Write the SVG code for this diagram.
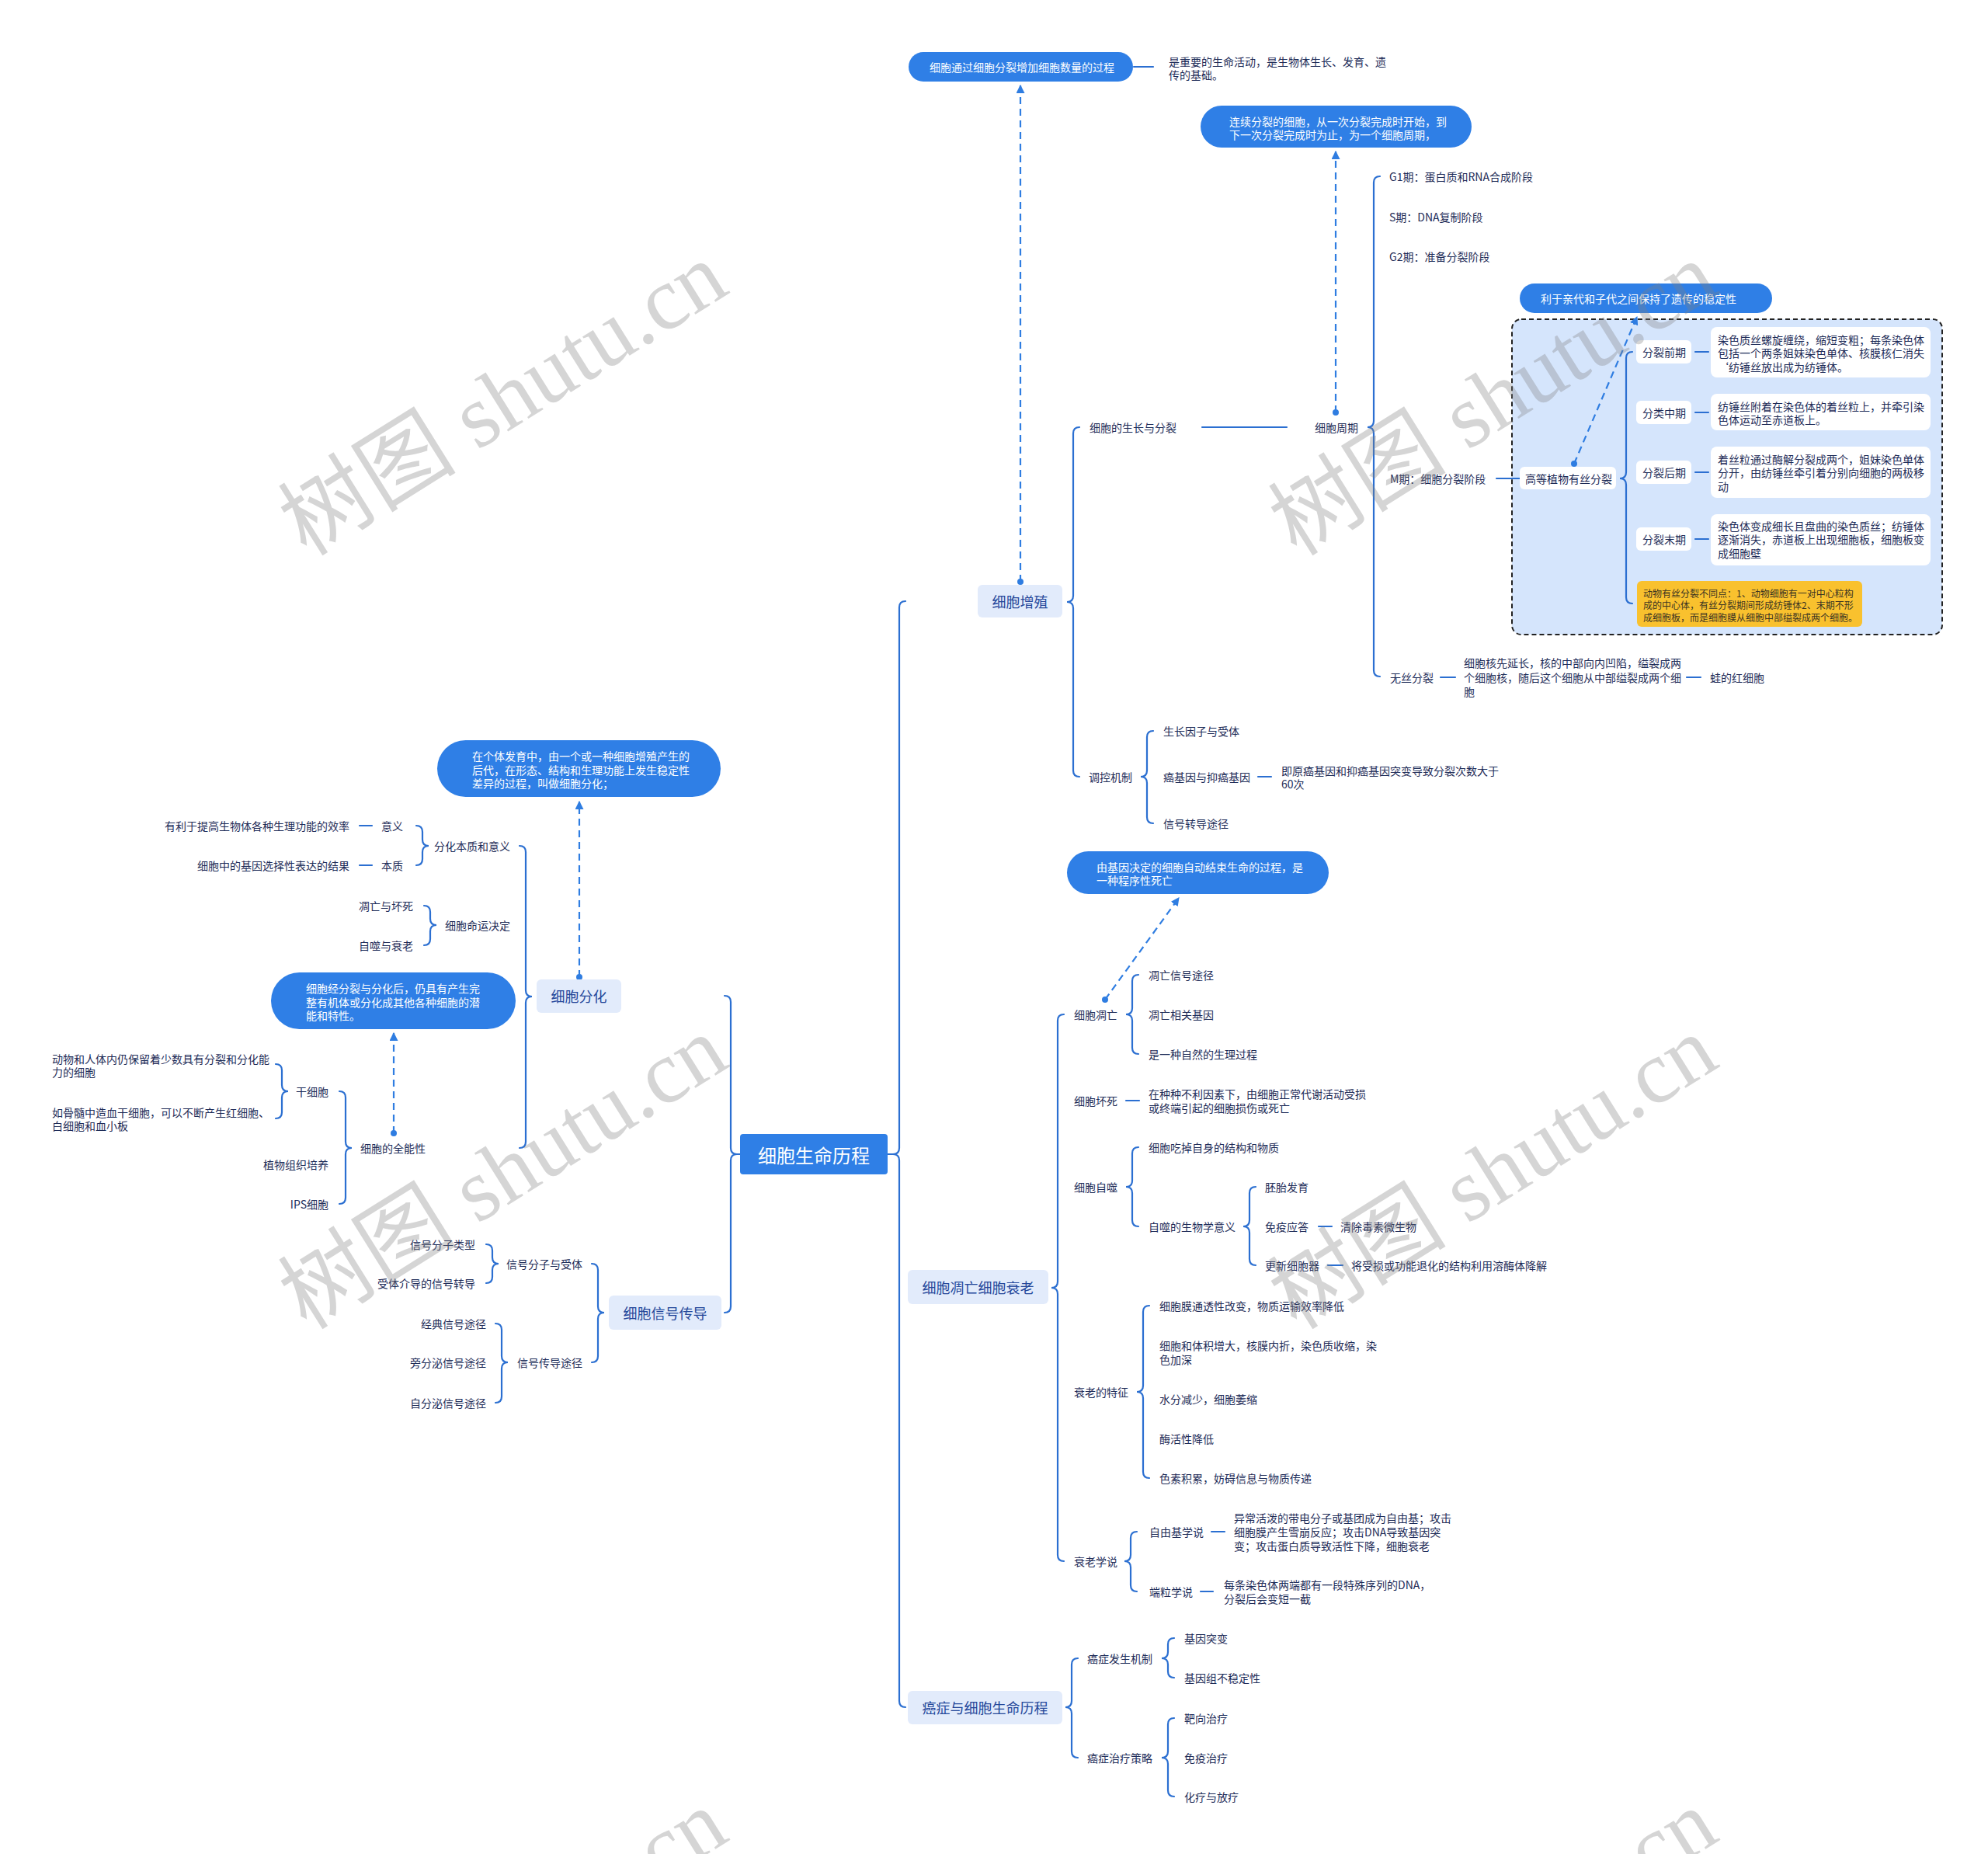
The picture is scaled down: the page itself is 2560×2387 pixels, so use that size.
<svg xmlns="http://www.w3.org/2000/svg" width="2560" height="2387" viewBox="0 0 2560 2387">
<style>
.t{font-family:"Noto Sans CJK SC","Noto Sans",sans-serif;font-size:14px;fill:#1d2b57;dominant-baseline:central}
.e{text-anchor:end}
.m{text-anchor:middle}
.pt{fill:#ffffff}
.br{font-size:18px;fill:#24479a;text-anchor:middle}
.rt{font-size:24px;fill:#ffffff;text-anchor:middle}
.y{font-size:12px;fill:#3a3322}
.ln{fill:none;stroke:#2b6fd1;stroke-width:2.2;stroke-linecap:round}
.da{fill:none;stroke:#2f7de1;stroke-width:2.2;stroke-dasharray:9 6}
.pill{fill:#2f7fe6}
.bx{fill:#e2ebfb}
.wb{fill:#ffffff}
.wm{font-family:"Liberation Serif","Noto Sans CJK SC",serif;font-size:115px;fill:#808080;fill-opacity:0.33;text-anchor:middle;dominant-baseline:central}
</style>
<defs>
<marker id="ah" viewBox="0 0 10 10" refX="9" refY="5" markerWidth="5" markerHeight="5" orient="auto"><path d="M0,0 L10,5 L0,10 z" fill="#2f7de1"/></marker>
</defs>
<rect width="2560" height="2387" fill="#ffffff"/>

<g id="mphase-area">
<rect x="1947" y="411" width="554" height="406" rx="12" fill="#d5e5fc" stroke="#222" stroke-width="2" stroke-dasharray="6 4"/>
</g>

<g id="connectors">
<path class="ln" d="M1143,1486 L1150,1486"/>
<path class="ln" d="M1166,774 Q1158,774 1158,782 L1158,1478 Q1158,1486 1150,1486 Q1158,1486 1158,1494 L1158,2190 Q1158,2198 1166,2198"/>
<path class="ln" d="M1390,550 Q1382,550 1382,558 L1382,767 Q1382,775 1374,775 Q1382,775 1382,783 L1382,992 Q1382,1000 1390,1000"/>
<path class="ln" d="M1548,550 L1657,550"/>
<path class="ln" d="M1777,227 Q1769,227 1769,235 L1769,542 Q1769,550 1761,550 Q1769,550 1769,558 L1769,863 Q1769,871 1777,871"/>
<path class="ln" d="M1927,616 L1957,616"/>
<path class="ln" d="M2102,453 Q2094,453 2094,461 L2094,608 Q2094,616 2086,616 Q2094,616 2094,624 L2094,769 Q2094,777 2102,777"/>
<path class="ln" d="M2183,453 L2200,453 M2183,531 L2200,531 M2183,608 L2200,608 M2183,694 L2200,694"/>
<path class="ln" d="M1855,872 L1874,872 M2172,872 L2190,872"/>
<path class="ln" d="M1460,86 L1485,86"/>
<path class="ln" d="M1485,941 Q1477,941 1477,949 L1477,992 Q1477,1000 1469,1000 Q1477,1000 1477,1008 L1477,1052 Q1477,1060 1485,1060"/>
<path class="ln" d="M1620,1000 L1637,1000"/>
<path class="ln" d="M1370,1306 Q1362,1306 1362,1314 L1362,1650 Q1362,1658 1354,1658 Q1362,1658 1362,1666 L1362,2002 Q1362,2010 1370,2010"/>
<path class="ln" d="M1466,1255 Q1458,1255 1458,1263 L1458,1298 Q1458,1306 1450,1306 Q1458,1306 1458,1314 L1458,1349 Q1458,1357 1466,1357"/>
<path class="ln" d="M1450,1417 L1467,1417"/>
<path class="ln" d="M1466,1477 Q1458,1477 1458,1485 L1458,1520 Q1458,1528 1450,1528 Q1458,1528 1458,1536 L1458,1571 Q1458,1579 1466,1579"/>
<path class="ln" d="M1617,1528 Q1609,1528 1609,1536 L1609,1571 Q1609,1579 1601,1579 Q1609,1579 1609,1587 L1609,1621 Q1609,1629 1617,1629"/>
<path class="ln" d="M1698,1579 L1715,1579 M1710,1629 L1729,1629"/>
<path class="ln" d="M1480,1681 Q1472,1681 1472,1689 L1472,1784 Q1472,1792 1464,1792 Q1472,1792 1472,1800 L1472,1895 Q1472,1903 1480,1903"/>
<path class="ln" d="M1464,1972 Q1456,1972 1456,1980 L1456,2002 Q1456,2010 1448,2010 Q1456,2010 1456,2018 L1456,2041 Q1456,2049 1464,2049"/>
<path class="ln" d="M1560,1972 L1577,1972 M1546,2049 L1562,2049"/>
<path class="ln" d="M1388,2135 Q1380,2135 1380,2143 L1380,2190 Q1380,2198 1372,2198 Q1380,2198 1380,2206 L1380,2255 Q1380,2263 1388,2263"/>
<path class="ln" d="M1512,2109 Q1504,2109 1504,2117 L1504,2127 Q1504,2135 1496,2135 Q1504,2135 1504,2143 L1504,2152 Q1504,2160 1512,2160"/>
<path class="ln" d="M1512,2212 Q1504,2212 1504,2220 L1504,2255 Q1504,2263 1496,2263 Q1504,2263 1504,2271 L1504,2305 Q1504,2313 1512,2313"/>
<path class="ln" d="M949,1486 L953,1486"/>
<path class="ln" d="M933,1282 Q941,1282 941,1290 L941,1478 Q941,1486 949,1486 Q941,1486 941,1494 L941,1682 Q941,1690 933,1690"/>
<path class="ln" d="M669,1089 Q677,1089 677,1097 L677,1275 Q677,1283 685,1283 Q677,1283 677,1291 L677,1470 Q677,1478 669,1478"/>
<path class="ln" d="M536,1063 Q544,1063 544,1071 L544,1081 Q544,1089 552,1089 Q544,1089 544,1097 L544,1106 Q544,1114 536,1114"/>
<path class="ln" d="M463,1063 L479,1063 M463,1114 L479,1114"/>
<path class="ln" d="M546,1166 Q554,1166 554,1174 L554,1183 Q554,1191 562,1191 Q554,1191 554,1199 L554,1209 Q554,1217 546,1217"/>
<path class="ln" d="M437,1405 Q445,1405 445,1413 L445,1470 Q445,1478 453,1478 Q445,1478 445,1486 L445,1542 Q445,1550 437,1550"/>
<path class="ln" d="M355,1370 Q363,1370 363,1378 L363,1397 Q363,1405 371,1405 Q363,1405 363,1413 L363,1432 Q363,1440 355,1440"/>
<path class="ln" d="M762,1627 Q770,1627 770,1635 L770,1682 Q770,1690 778,1690 Q770,1690 770,1698 L770,1746 Q770,1754 762,1754"/>
<path class="ln" d="M626,1602 Q634,1602 634,1610 L634,1619 Q634,1627 642,1627 Q634,1627 634,1635 L634,1644 Q634,1652 626,1652"/>
<path class="ln" d="M638,1704 Q646,1704 646,1712 L646,1746 Q646,1754 654,1754 Q646,1754 646,1762 L646,1798 Q646,1806 638,1806"/>
<g fill="#2f7de1">
<circle cx="1314" cy="749" r="4"/><circle cx="1720" cy="531" r="4"/><circle cx="2027" cy="597" r="4"/>
<circle cx="1423" cy="1287" r="4"/><circle cx="746" cy="1258" r="4"/><circle cx="507" cy="1459" r="4"/>
</g>
<path class="da" d="M1314,749 L1314,110" marker-end="url(#ah)"/>
<path class="da" d="M1720,531 L1720,195" marker-end="url(#ah)"/>
<path class="da" d="M2027,597 L2108,408" marker-end="url(#ah)"/>
<path class="da" d="M1423,1287 L1518,1156" marker-end="url(#ah)"/>
<path class="da" d="M746,1258 L746,1032" marker-end="url(#ah)"/>
<path class="da" d="M507,1459 L507,1330" marker-end="url(#ah)"/>
</g>

<g id="root"><rect x="953" y="1460" width="190" height="52" rx="4" fill="#2f7fe6"/><text class="t rt" x="1048" y="1486">细胞生命历程</text></g>

<g id="b-proliferation"><rect class="bx" x="1259" y="753" width="109" height="42" rx="6"/><text class="t br" x="1313.5" y="774">细胞增殖</text></g>
<g id="pill-proliferation"><rect class="pill" x="1170" y="67" width="289" height="38" rx="19"/><text class="t pt" x="1197" y="86">细胞通过细胞分裂增加细胞数量的过程</text></g>
<g id="n-importance"><text class="t" x="1505" y="79">是重要的生命活动，是生物体生长、发育、遗<tspan x="1505" y="96">传的基础。</tspan></text></g>
<g id="n-growth"><text class="t" x="1403" y="550">细胞的生长与分裂</text></g>
<g id="n-cycle"><text class="t" x="1693" y="550">细胞周期</text></g>
<g id="pill-cycle"><rect class="pill" x="1546" y="136" width="349" height="54" rx="27"/><text class="t pt" x="1583" y="156">连续分裂的细胞，从一次分裂完成时开始，到<tspan x="1583" y="173">下一次分裂完成时为止，为一个细胞周期，</tspan></text></g>
<g id="n-g1"><text class="t" x="1789" y="227">G1期：蛋白质和RNA合成阶段</text></g>
<g id="n-s"><text class="t" x="1789" y="279">S期：DNA复制阶段</text></g>
<g id="n-g2"><text class="t" x="1789" y="330">G2期：准备分裂阶段</text></g>
<g id="n-m"><text class="t" x="1790" y="616">M期：细胞分裂阶段</text></g>
<g id="pill-stable"><rect class="pill" x="1957" y="365" width="325" height="38" rx="19"/><text class="t pt" x="1984" y="384">利于亲代和子代之间保持了遗传的稳定性</text></g>
<g id="n-plant"><rect class="wb" x="1957" y="601" width="124" height="29" rx="6"/><text class="t" x="1964" y="616">高等植物有丝分裂</text></g>
<g id="n-pro"><rect class="wb" x="2107" y="438" width="71" height="30" rx="6"/><text class="t" x="2115" y="453">分裂前期</text></g>
<g id="d-pro"><rect class="wb" x="2203" y="421" width="283" height="65" rx="8"/><text class="t" x="2212" y="437">染色质丝螺旋缠绕，缩短变粗；每条染色体<tspan x="2212" y="454">包括一个两条姐妹染色单体、核膜核仁消失</tspan><tspan x="2212" y="472">‘纺锤丝放出成为纺锤体。</tspan></text></g>
<g id="n-meta"><rect class="wb" x="2107" y="516" width="71" height="30" rx="6"/><text class="t" x="2115" y="531">分类中期</text></g>
<g id="d-meta"><rect class="wb" x="2203" y="507" width="283" height="47" rx="8"/><text class="t" x="2212" y="523">纺锤丝附着在染色体的着丝粒上，并牵引染<tspan x="2212" y="540">色体运动至赤道板上。</tspan></text></g>
<g id="n-ana"><rect class="wb" x="2107" y="593" width="71" height="30" rx="6"/><text class="t" x="2115" y="608">分裂后期</text></g>
<g id="d-ana"><rect class="wb" x="2203" y="575" width="283" height="66" rx="8"/><text class="t" x="2212" y="591">着丝粒通过酶解分裂成两个，姐妹染色单体<tspan x="2212" y="608">分开，由纺锤丝牵引着分别向细胞的两极移</tspan><tspan x="2212" y="626">动</tspan></text></g>
<g id="n-telo"><rect class="wb" x="2107" y="679" width="71" height="30" rx="6"/><text class="t" x="2115" y="694">分裂末期</text></g>
<g id="d-telo"><rect class="wb" x="2203" y="662" width="283" height="66" rx="8"/><text class="t" x="2212" y="677">染色体变成细长且盘曲的染色质丝；纺锤体<tspan x="2212" y="694">逐渐消失，赤道板上出现细胞板，细胞板变</tspan><tspan x="2212" y="712">成细胞壁</tspan></text></g>
<g id="n-animal"><rect x="2108" y="748" width="290" height="59" rx="6" fill="#f9c12e"/><text class="t y" x="2116" y="763">动物有丝分裂不同点：1、动物细胞有一对中心粒构<tspan x="2116" y="778">成的中心体，有丝分裂期间形成纺锤体2、末期不形</tspan><tspan x="2116" y="794">成细胞板，而是细胞膜从细胞中部缢裂成两个细胞。</tspan></text></g>
<g id="n-amitosis"><text class="t" x="1790" y="872">无丝分裂</text></g>
<g id="d-amitosis"><text class="t" x="1885" y="853">细胞核先延长，核的中部向内凹陷，缢裂成两<tspan x="1885" y="872">个细胞核，随后这个细胞从中部缢裂成两个细</tspan><tspan x="1885" y="890">胞</tspan></text></g>
<g id="n-frog"><text class="t" x="2202" y="872">蛙的红细胞</text></g>
<g id="n-regulation"><text class="t" x="1402" y="1000">调控机制</text></g>
<g id="n-gf"><text class="t" x="1498" y="941">生长因子与受体</text></g>
<g id="n-onco"><text class="t" x="1498" y="1000">癌基因与抑癌基因</text></g>
<g id="d-onco"><text class="t" x="1650" y="992">即原癌基因和抑癌基因突变导致分裂次数大于<tspan x="1650" y="1009">60次</tspan></text></g>
<g id="n-sig"><text class="t" x="1498" y="1060">信号转导途径</text></g>

<g id="b-death"><rect class="bx" x="1169" y="1635" width="181" height="44" rx="6"/><text class="t br" x="1259.5" y="1657">细胞凋亡细胞衰老</text></g>
<g id="pill-apop"><rect class="pill" x="1374" y="1096" width="337" height="55" rx="27.5"/><text class="t pt" x="1412" y="1116">由基因决定的细胞自动结束生命的过程，是<tspan x="1412" y="1133">一种程序性死亡</tspan></text></g>
<g id="n-apop"><text class="t" x="1383" y="1306">细胞凋亡</text></g>
<g id="n-apop1"><text class="t" x="1479" y="1255">凋亡信号途径</text></g>
<g id="n-apop2"><text class="t" x="1479" y="1306">凋亡相关基因</text></g>
<g id="n-apop3"><text class="t" x="1479" y="1357">是一种自然的生理过程</text></g>
<g id="n-necro"><text class="t" x="1383" y="1417">细胞坏死</text></g>
<g id="d-necro"><text class="t" x="1479" y="1408">在种种不利因素下，由细胞正常代谢活动受损<tspan x="1479" y="1426">或终端引起的细胞损伤或死亡</tspan></text></g>
<g id="n-auto"><text class="t" x="1383" y="1528">细胞自噬</text></g>
<g id="n-auto1"><text class="t" x="1479" y="1477">细胞吃掉自身的结构和物质</text></g>
<g id="n-auto2"><text class="t" x="1479" y="1579">自噬的生物学意义</text></g>
<g id="n-embryo"><text class="t" x="1629" y="1528">胚胎发育</text></g>
<g id="n-immune"><text class="t" x="1629" y="1579">免疫应答</text></g>
<g id="n-clear"><text class="t" x="1726" y="1579">清除毒素微生物</text></g>
<g id="n-renew"><text class="t" x="1629" y="1629">更新细胞器</text></g>
<g id="n-lyso"><text class="t" x="1740" y="1629">将受损或功能退化的结构利用溶酶体降解</text></g>
<g id="n-aging"><text class="t" x="1383" y="1792">衰老的特征</text></g>
<g id="n-ag1"><text class="t" x="1493" y="1681">细胞膜通透性改变，物质运输效率降低</text></g>
<g id="n-ag2"><text class="t" x="1493" y="1732">细胞和体积增大，核膜内折，染色质收缩，染<tspan x="1493" y="1750">色加深</tspan></text></g>
<g id="n-ag3"><text class="t" x="1493" y="1801">水分减少，细胞萎缩</text></g>
<g id="n-ag4"><text class="t" x="1493" y="1852">酶活性降低</text></g>
<g id="n-ag5"><text class="t" x="1493" y="1903">色素积累，妨碍信息与物质传递</text></g>
<g id="n-theory"><text class="t" x="1383" y="2010">衰老学说</text></g>
<g id="n-radical"><text class="t" x="1480" y="1972">自由基学说</text></g>
<g id="d-radical"><text class="t" x="1589" y="1954">异常活泼的带电分子或基团成为自由基；攻击<tspan x="1589" y="1972">细胞膜产生雪崩反应；攻击DNA导致基因突</tspan><tspan x="1589" y="1990">变；攻击蛋白质导致活性下降，细胞衰老</tspan></text></g>
<g id="n-telomere"><text class="t" x="1480" y="2049">端粒学说</text></g>
<g id="d-telomere"><text class="t" x="1576" y="2040">每条染色体两端都有一段特殊序列的DNA，<tspan x="1576" y="2058">分裂后会变短一截</tspan></text></g>

<g id="b-cancer"><rect class="bx" x="1169" y="2177" width="199" height="43" rx="6"/><text class="t br" x="1268.5" y="2198">癌症与细胞生命历程</text></g>
<g id="n-cmech"><text class="t" x="1400" y="2135">癌症发生机制</text></g>
<g id="n-c1"><text class="t" x="1525" y="2109">基因突变</text></g>
<g id="n-c2"><text class="t" x="1525" y="2160">基因组不稳定性</text></g>
<g id="n-ctreat"><text class="t" x="1400" y="2263">癌症治疗策略</text></g>
<g id="n-c3"><text class="t" x="1525" y="2212">靶向治疗</text></g>
<g id="n-c4"><text class="t" x="1525" y="2263">免疫治疗</text></g>
<g id="n-c5"><text class="t" x="1525" y="2313">化疗与放疗</text></g>

<g id="b-diff"><rect class="bx" x="691" y="1261" width="109" height="43" rx="6"/><text class="t br" x="745.5" y="1282">细胞分化</text></g>
<g id="pill-diff"><rect class="pill" x="563" y="953" width="365" height="73" rx="36.5"/><text class="t pt" x="608" y="973">在个体发育中，由一个或一种细胞增殖产生的<tspan x="608" y="991">后代，在形态、结构和生理功能上发生稳定性</tspan><tspan x="608" y="1008">差异的过程，叫做细胞分化；</tspan></text></g>
<g id="n-essence"><text class="t e" x="657" y="1089">分化本质和意义</text></g>
<g id="n-meaning"><text class="t e" x="519" y="1063">意义</text></g>
<g id="d-meaning"><text class="t e" x="450" y="1063">有利于提高生物体各种生理功能的效率</text></g>
<g id="n-nature"><text class="t e" x="519" y="1114">本质</text></g>
<g id="d-nature"><text class="t e" x="450" y="1114">细胞中的基因选择性表达的结果</text></g>
<g id="n-fate"><text class="t e" x="657" y="1191">细胞命运决定</text></g>
<g id="n-fate1"><text class="t e" x="532" y="1166">凋亡与坏死</text></g>
<g id="n-fate2"><text class="t e" x="532" y="1217">自噬与衰老</text></g>
<g id="pill-toti"><rect class="pill" x="349" y="1252" width="315" height="73" rx="36.5"/><text class="t pt" x="394" y="1272">细胞经分裂与分化后，仍具有产生完<tspan x="394" y="1290">整有机体或分化成其他各种细胞的潜</tspan><tspan x="394" y="1307">能和特性。</tspan></text></g>
<g id="n-toti"><text class="t e" x="548" y="1478">细胞的全能性</text></g>
<g id="n-stem"><text class="t e" x="423" y="1405">干细胞</text></g>
<g id="d-stem1"><text class="t" x="67" y="1363">动物和人体内仍保留着少数具有分裂和分化能<tspan x="67" y="1380">力的细胞</tspan></text></g>
<g id="d-stem2"><text class="t" x="67" y="1432">如骨髓中造血干细胞，可以不断产生红细胞、<tspan x="67" y="1449">白细胞和血小板</tspan></text></g>
<g id="n-plantc"><text class="t e" x="423" y="1499">植物组织培养</text></g>
<g id="n-ips"><text class="t e" x="423" y="1550">IPS细胞</text></g>

<g id="b-signal"><rect class="bx" x="784" y="1668" width="145" height="44" rx="6"/><text class="t br" x="856.5" y="1690">细胞信号传导</text></g>
<g id="n-sr"><text class="t e" x="750" y="1627">信号分子与受体</text></g>
<g id="n-sr1"><text class="t e" x="612" y="1602">信号分子类型</text></g>
<g id="n-sr2"><text class="t e" x="612" y="1652">受体介导的信号转导</text></g>
<g id="n-sp"><text class="t e" x="750" y="1754">信号传导途径</text></g>
<g id="n-sp1"><text class="t e" x="626" y="1704">经典信号途径</text></g>
<g id="n-sp2"><text class="t e" x="626" y="1754">旁分泌信号途径</text></g>
<g id="n-sp3"><text class="t e" x="626" y="1806">自分泌信号途径</text></g>

<g id="watermarks">
<text class="wm" transform="translate(648,514) rotate(-32)">树图 shutu.cn</text>
<text class="wm" transform="translate(1923,514) rotate(-32)">树图 shutu.cn</text>
<text class="wm" transform="translate(648,1510) rotate(-32)">树图 shutu.cn</text>
<text class="wm" transform="translate(1923,1510) rotate(-32)">树图 shutu.cn</text>
<text class="wm" transform="translate(648,2506) rotate(-32)">树图 shutu.cn</text>
<text class="wm" transform="translate(1923,2506) rotate(-32)">树图 shutu.cn</text>
</g>
</svg>
